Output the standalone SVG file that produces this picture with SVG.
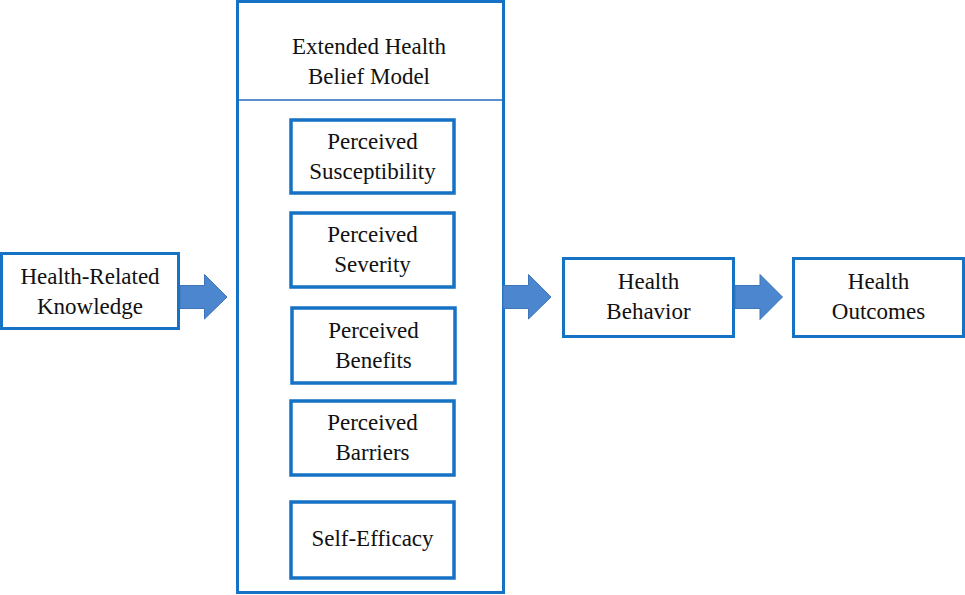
<svg xmlns="http://www.w3.org/2000/svg" width="965" height="595" viewBox="0 0 965 595">
<style>
.box{fill:#fff;stroke:#1572C4;stroke-width:3}
.inner{fill:#fff;stroke:#1572C4;stroke-width:3.5}
.t{font-family:"Liberation Serif","Times New Roman",serif;font-size:23px;fill:#111;text-anchor:middle}
.arr{fill:#4C86CF;stroke:#3E74B8;stroke-width:1}
</style>
<rect width="965" height="595" fill="#fff"/>
<g id="ehbm">
<rect class="box" x="237.5" y="1.5" width="266" height="591"/>
<line x1="239" y1="100" x2="502" y2="100" stroke="#5B8FCB" stroke-width="2"/>
<text class="t" x="369" y="54">Extended Health</text>
<text class="t" x="369" y="84">Belief Model</text>
</g>
<g id="knowledge">
<rect class="box" x="1.5" y="253.5" width="177" height="75"/>
<text class="t" x="90" y="284">Health-Related</text>
<text class="t" x="90" y="314">Knowledge</text>
</g>
<g id="susceptibility">
<rect class="inner" x="291" y="120" width="163" height="73"/>
<text class="t" x="372.5" y="149">Perceived</text>
<text class="t" x="372.5" y="179">Susceptibility</text>
</g>
<g id="severity">
<rect class="inner" x="291" y="213" width="163" height="74"/>
<text class="t" x="372.5" y="242">Perceived</text>
<text class="t" x="372.5" y="272">Severity</text>
</g>
<g id="benefits">
<rect class="inner" x="292" y="308" width="163" height="75"/>
<text class="t" x="373.5" y="338">Perceived</text>
<text class="t" x="373.5" y="368">Benefits</text>
</g>
<g id="barriers">
<rect class="inner" x="291" y="401" width="163" height="74"/>
<text class="t" x="372.5" y="430">Perceived</text>
<text class="t" x="372.5" y="460">Barriers</text>
</g>
<g id="selfefficacy">
<rect class="inner" x="291" y="502" width="163" height="76"/>
<text class="t" x="372.5" y="546">Self-Efficacy</text>
</g>
<g id="behavior">
<rect class="box" x="563.5" y="258.5" width="170" height="78"/>
<text class="t" x="648.5" y="289">Health</text>
<text class="t" x="648.5" y="319">Behavior</text>
</g>
<g id="outcomes">
<rect class="box" x="793.5" y="258.5" width="170" height="78"/>
<text class="t" x="878.5" y="289">Health</text>
<text class="t" x="878.5" y="319">Outcomes</text>
</g>
<g id="connectors">
<path class="arr" d="M180,285.5 H204.5 V274.5 L227,297 L204.5,319 V308.5 H180 Z"/>
<path class="arr" d="M503,285.5 H528.5 V274.5 L551,297 L528.5,319 V308.5 H503 Z"/>
<path class="arr" d="M735,285.5 H760 V274.5 L782.5,297 L760,319.5 V308.5 H735 Z"/>
</g>
</svg>
